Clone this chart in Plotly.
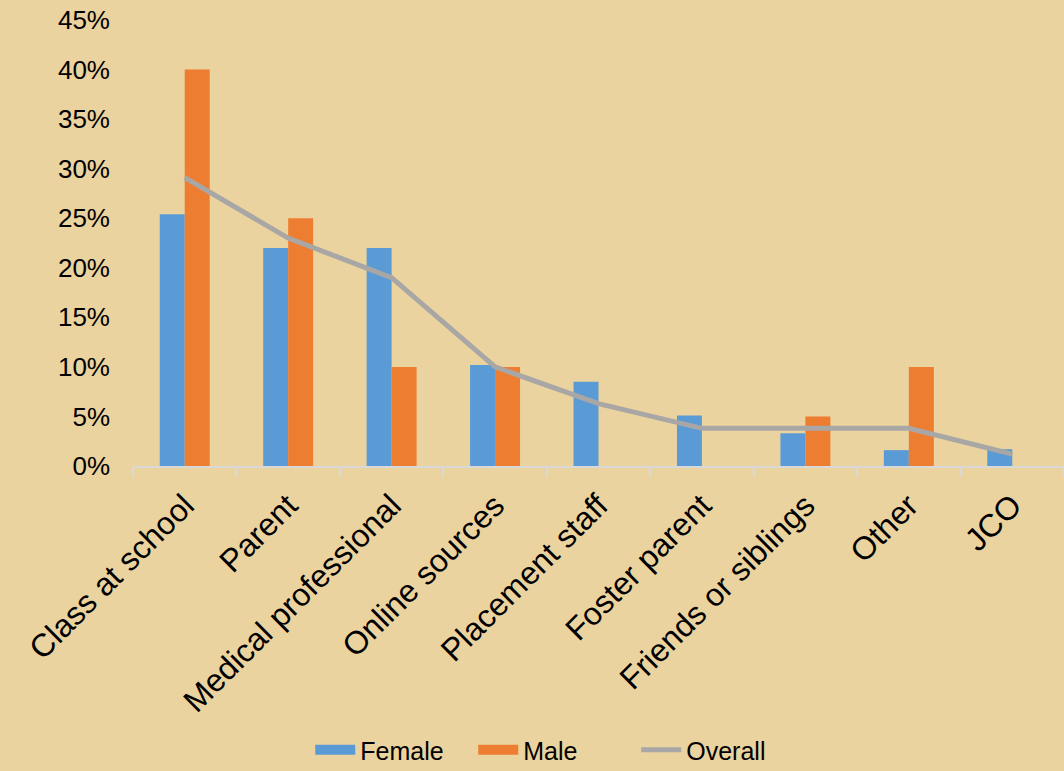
import plotly.graph_objects as go

# Sources of information, share of respondents (%)
categories = [
    "Class at school", "Parent", "Medical professional", "Online sources",
    "Placement staff", "Foster parent", "Friends or siblings", "Other", "JCO",
]
female = [25.4, 22.0, 22.0, 10.2, 8.5, 5.1, 3.3, 1.6, 1.7]
male = [40.0, 25.0, 10.0, 10.0, None, None, 5.0, 10.0, None]
overall = [29.1, 23.0, 19.0, 10.0, 6.3, 3.8, 3.8, 3.8, 1.2]

FONT = "Liberation Sans, Arial, sans-serif"
BG = "#EBD39F"
BLUE, ORANGE, GREY = "#5B9BD5", "#ED7D31", "#A9A6A6"

fig = go.Figure()
fig.add_trace(go.Bar(name="Female", x=categories, y=female, showlegend=False,
                     marker=dict(color=BLUE, line=dict(width=0))))
fig.add_trace(go.Bar(name="Male", x=categories, y=male, showlegend=False,
                     marker=dict(color=ORANGE, line=dict(width=0))))
fig.add_trace(go.Scatter(name="Overall", x=categories, y=overall, mode="lines",
                         showlegend=False, line=dict(color=GREY, width=5)))

# legend entries drawn as wide swatches
for name, color, width in [("Female", BLUE, 14), ("Male", ORANGE, 14), ("Overall", GREY, 5)]:
    fig.add_trace(go.Scatter(name=name, x=[None], y=[None], mode="lines",
                             line=dict(color=color, width=width), hoverinfo="skip"))

fig.update_layout(
    width=1064, height=771,
    paper_bgcolor=BG, plot_bgcolor=BG,
    barmode="group", bargap=0.517, bargroupgap=0,
    margin=dict(l=133, r=0, t=20, b=305, autoexpand=False),
    font=dict(family=FONT, size=26, color="#000000"),
    showlegend=True,
    legend=dict(orientation="h", x=0.453, xanchor="center", y=-0.637,
                yanchor="middle", font=dict(size=25), bgcolor="rgba(0,0,0,0)",
                itemwidth=40, entrywidth=108, tracegroupgap=0, borderwidth=0),
    xaxis=dict(
        type="category", tickangle=-45, tickson="boundaries", automargin=False,
        ticks="outside", ticklen=9, tickwidth=2, tickcolor="#D9D9D9",
        showline=True, linecolor="#D9D9D9", linewidth=2,
        showgrid=False, tickfont=dict(size=32), ticklabelstandoff=6,
    ),
    yaxis=dict(
        range=[0, 45], dtick=5, ticksuffix="%", showgrid=False, automargin=False,
        zeroline=False, showline=False, ticks="", tickfont=dict(size=26),
        ticklabelstandoff=22,
    ),
)

fig.write_html("out.html")
